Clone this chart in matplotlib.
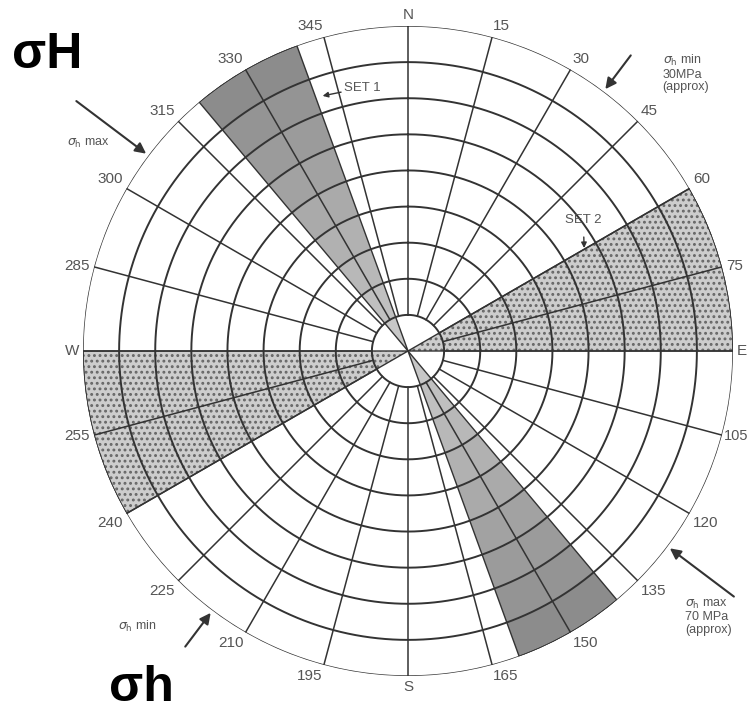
import numpy as np
import matplotlib.pyplot as plt

plt.rcParams['font.family'] = ['Liberation Sans', 'DejaVu Sans']

# compass grid: spokes every 15 deg (clockwise from north), 9 equal rings
spoke_angles = list(range(0, 360, 15))
spoke_labels = ['N', '15', '30', '45', '60', '75', 'E', '105', '120', '135', '150', '165',
                'S', '195', '210', '225', '240', '255', 'W', '285', '300', '315', '330', '345']
ring_radii = [1, 2, 3, 4, 5, 6, 7, 8, 9]

# joint sets (centre direction, width in degrees)
set1_dirs = [330, 150]
set1_width = 20
set2_dirs = [75, 255]
set2_width = 30

# in-situ stress arrows: direction, arrow tail radius, label
stress_dirs = [307, 127, 37, 217]
stress_tail = [11.5, 11.3, 10.25, 10.25]
stress_text = [r'$\sigma_\mathrm{h}$ max',
               '$\\sigma_\\mathrm{h}$ max\n70 MPa\n(approx)',
               '$\\sigma_\\mathrm{h}$ min\n30MPa\n(approx)',
               r'$\sigma_\mathrm{h}$ min']
stress_text_pos = [(303, 10.55), (133.8, 10.63), (42.5, 10.44), (224.5, 10.7)]
stress_text_ha = ['center', 'left', 'left', 'center']

line_col = '#333333'
text_col = '#555555'

fig = plt.figure(figsize=(7.48, 7.11), dpi=100)
ax = fig.add_axes([83 / 748, 1 - 676 / 711, 650 / 748, 650 / 711], projection='polar')
ax.set_theta_zero_location('N')
ax.set_theta_direction(-1)
ax.set_ylim(0, 9)
ax.set_xticks([])
ax.set_yticks([])
ax.grid(False)
ax.spines['polar'].set_visible(False)

# set 1: solid grey, darker towards the rim
greys = np.linspace(0.78, 0.55, len(ring_radii))
for d in set1_dirs:
    for i, r in enumerate(ring_radii):
        ax.bar(np.deg2rad(d), 1, width=np.deg2rad(set1_width), bottom=r - 1,
               color=str(greys[i]), edgecolor='none', zorder=1)
    ax.bar(np.deg2rad(d), ring_radii[-1], width=np.deg2rad(set1_width), bottom=0,
           color='none', edgecolor=line_col, lw=1.0, zorder=3)

# set 2: stippled
plt.rcParams['hatch.linewidth'] = 1.3
for d in set2_dirs:
    ax.bar(np.deg2rad(d), ring_radii[-1], width=np.deg2rad(set2_width), bottom=0,
           color='#cdcdcd', edgecolor='none', zorder=1)
    ax.bar(np.deg2rad(d), ring_radii[-1], width=np.deg2rad(set2_width), bottom=0,
           color='none', edgecolor='#666666', hatch='...', lw=0, zorder=1.5)
    ax.bar(np.deg2rad(d), ring_radii[-1], width=np.deg2rad(set2_width), bottom=0,
           color='none', edgecolor=line_col, lw=1.0, zorder=3)

# rings
th = np.linspace(0, 2 * np.pi, 721)
for r in ring_radii:
    lw = 1.0 if r == ring_radii[-1] else 1.4
    ax.plot(th, np.full_like(th, r), color=line_col, lw=lw, zorder=2)

# spokes + labels
for a, lab in zip(spoke_angles, spoke_labels):
    t = np.deg2rad(a)
    ax.plot([t, t], [ring_radii[0], ring_radii[-1]], color=line_col, lw=1.1, zorder=2)
    s, c = np.sin(t), np.cos(t)
    ha = 'left' if s > 0.2 else ('right' if s < -0.2 else 'center')
    va = 'bottom' if c > 0.3 else ('top' if c < -0.3 else 'center')
    if lab in ('N', 'S', 'E', 'W'):
        ha, va = {'N': ('center', 'bottom'), 'S': ('center', 'top'),
                  'E': ('left', 'center'), 'W': ('right', 'center')}[lab]
    off = 1.5 if lab == '105' else 3
    ax.annotate(lab, xy=(t, ring_radii[-1]), xytext=(off * s, off * c),
                textcoords='offset points', ha=ha, va=va,
                fontsize=10.5 if lab == '105' else 11,
                color=text_col, annotation_clip=False)

# set labels
ax.annotate('SET 1', xy=(np.deg2rad(341.5), 7.45), xytext=(np.deg2rad(346.3), 7.5),
            ha='left', va='center', fontsize=9.5, color=text_col, annotation_clip=False,
            arrowprops=dict(arrowstyle='-|>', color=line_col, lw=1.0,
                            mutation_scale=8, shrinkA=0, shrinkB=0))
ax.annotate('SET 2', xy=(np.deg2rad(59.7), 5.65), xytext=(np.deg2rad(53.2), 6.06),
            ha='center', va='center', fontsize=9.5, color=text_col, annotation_clip=False,
            arrowprops=dict(arrowstyle='-|>', color=line_col, lw=1.0,
                            mutation_scale=8, shrinkA=6, shrinkB=0))

# stress arrows
for d, tail, txt, (ta, tr), tha in zip(stress_dirs, stress_tail, stress_text,
                                       stress_text_pos, stress_text_ha):
    t = np.deg2rad(d)
    ax.annotate('', xy=(t, 9.08), xytext=(t, tail), annotation_clip=False,
                arrowprops=dict(arrowstyle='-|>', color=line_col, lw=1.5,
                                mutation_scale=16, shrinkA=0, shrinkB=0))
    ax.text(np.deg2rad(ta), tr, txt, ha=tha, va='center', fontsize=9,
            color=text_col, linespacing=1.05, clip_on=False)

fig.text(12 / 748, 1 - 68 / 711, 'σH', fontsize=36, fontweight='bold',
         va='baseline', ha='left')
fig.text(109 / 748, 1 - 701 / 711, 'σh', fontsize=36, fontweight='bold',
         va='baseline', ha='left')

fig.savefig('out.png', dpi=100)
